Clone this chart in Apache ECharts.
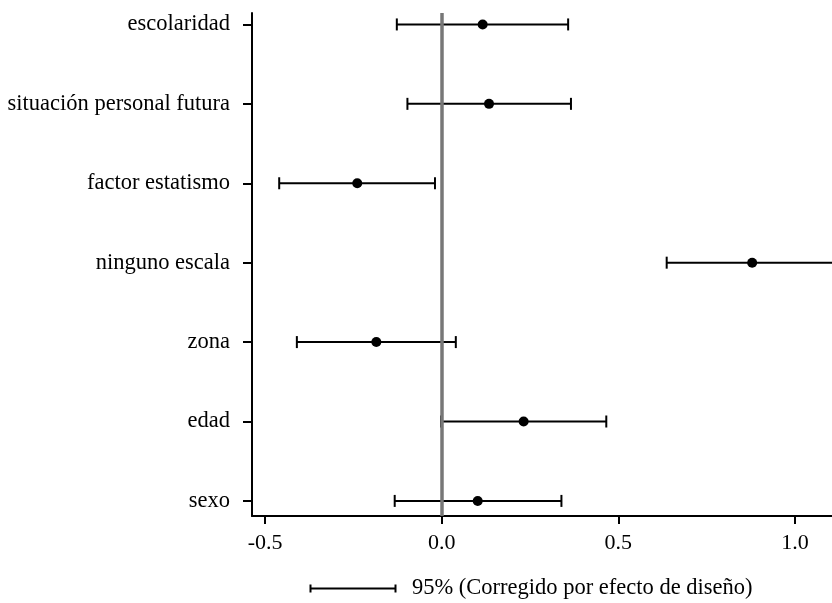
<!DOCTYPE html>
<html>
<head>
<meta charset="utf-8">
<script src="https://cdn.jsdelivr.net/npm/echarts@6/dist/echarts.min.js"></script>
<style>
  html, body { margin: 0; padding: 0; background: #fff; }
  #chart { width: 832px; height: 603px; }
</style>
</head>
<body>
<div id="chart"></div>
<script>
// Coefficient plot - estimates with 95% intervals

const categories = ['escolaridad', 'situación personal futura', 'factor estatismo', 'ninguno escala', 'zona', 'edad', 'sexo'];
const estimates = [0.116, 0.134, -0.239, 0.879, -0.185, 0.232, 0.102];
const lowerCI = [-0.127, -0.097, -0.460, 0.637, -0.410, -0.002, -0.133];
const upperCI = [0.358, 0.366, -0.019, 1.121, 0.040, 0.466, 0.339];
const xTicks = [-0.5, 0.0, 0.5, 1.0];
const legendText = '95% (Corregido por efecto de diseño)';

const FONT = '"Liberation Serif", "DejaVu Serif", serif';

document.addEventListener('DOMContentLoaded', function() {
    const chart = echarts.init(document.getElementById('chart'));

    // y position: first category on top
    const yPos = categories.map((c, i) => categories.length - i);
    const yTicks = yPos.slice().reverse();

    const pointData = estimates.map((v, i) => [v, yPos[i]]);
    const barData = lowerCI.map((lo, i) => [lo, upperCI[i], yPos[i]]);

    const option = {
        animation: false,
        backgroundColor: '#fff',
        grid: { left: 252, top: 13, right: 0, bottom: 87, containLabel: false },
        xAxis: {
            type: 'value',
            min: -0.537,
            max: 1.105,
            splitLine: { show: false },
            axisLine: { show: true, onZero: false, lineStyle: { color: '#000', width: 2 } },
            axisTick: { show: true, length: 8, lineStyle: { color: '#000', width: 2 }, customValues: xTicks },
            axisLabel: {
                customValues: xTicks,
                formatter: v => v.toFixed(1),
                color: '#000', fontFamily: FONT, fontSize: 22, margin: 16
            }
        },
        yAxis: {
            type: 'value',
            min: 0.81,
            max: 7.144,
            splitLine: { show: false },
            axisLine: { show: true, onZero: false, lineStyle: { color: '#000', width: 2 } },
            axisTick: { show: true, length: 9, lineStyle: { color: '#000', width: 2 }, customValues: yTicks },
            axisLabel: {
                customValues: yTicks,
                formatter: v => categories[categories.length - Math.round(v)],
                color: '#000', fontFamily: FONT, fontSize: 22.5, margin: 22,
                padding: [2, 0, 0, 0]
            }
        },
        series: [
            {
                type: 'custom',
                name: 'ci',
                data: barData,
                z: 2,
                renderItem: function(params, api) {
                    const lo = api.coord([api.value(0), api.value(2)]);
                    const hi = api.coord([api.value(1), api.value(2)]);
                    const cap = 6;
                    const style = { stroke: '#000', lineWidth: 2 };
                    return {
                        type: 'group',
                        children: [
                            { type: 'line', shape: { x1: lo[0], y1: lo[1], x2: hi[0], y2: hi[1] }, style: style },
                            { type: 'line', shape: { x1: lo[0], y1: lo[1] - cap, x2: lo[0], y2: lo[1] + cap }, style: style },
                            { type: 'line', shape: { x1: hi[0], y1: hi[1] - cap, x2: hi[0], y2: hi[1] + cap }, style: style }
                        ]
                    };
                }
            },
            {
                type: 'scatter',
                name: 'est',
                data: pointData,
                symbol: 'circle',
                symbolSize: 10,
                itemStyle: { color: '#000', opacity: 1 },
                z: 3,
                markLine: {
                    silent: true,
                    symbol: ['none', 'none'],
                    label: { show: false },
                    lineStyle: { color: '#777', width: 3.5, type: 'solid' },
                    data: [{ xAxis: 0 }],
                    z: 10
                }
            }
        ],
        graphic: [
            {
                type: 'group',
                left: 308,
                top: 582,
                children: [
                    { type: 'line', shape: { x1: 0, y1: 7, x2: 85, y2: 7 }, style: { stroke: '#000', lineWidth: 2 } },
                    { type: 'line', shape: { x1: 0, y1: 3, x2: 0, y2: 11 }, style: { stroke: '#000', lineWidth: 2 } },
                    { type: 'line', shape: { x1: 85, y1: 3, x2: 85, y2: 11 }, style: { stroke: '#000', lineWidth: 2 } }
                ]
            },
            {
                type: 'text',
                left: 412,
                top: 577,
                style: { text: legendText, fill: '#000', font: '22.5px ' + FONT }
            }
        ]
    };

    chart.setOption(option);
});
</script>
</body>
</html>
